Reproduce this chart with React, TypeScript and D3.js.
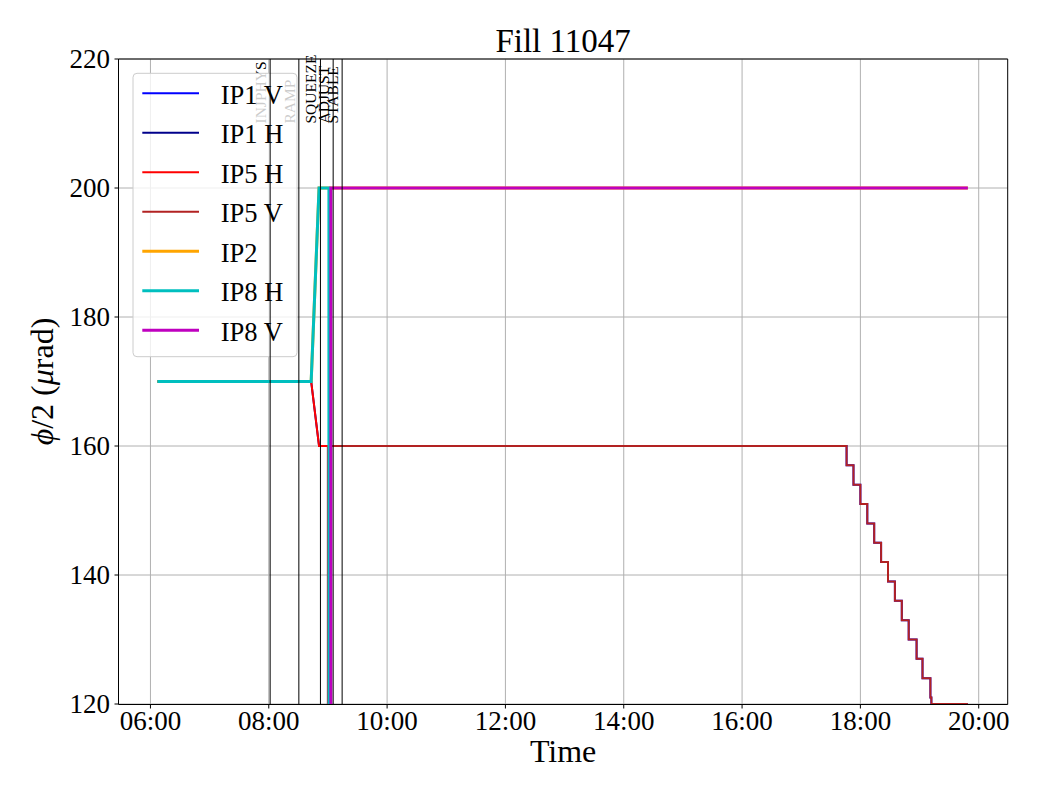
import React from 'react'
import * as d3 from 'd3'

// crossing angle readings, [time, phi/2 in urad]; 0 = switched off (off scale)
const ip5H: [string, number][] = [
  ['06:07', 170], ['08:43', 170], ['08:51', 160], ['09:00', 160], ['09:00', 0], ['19:49', 0]
]
const ip5V: [string, number][] = [
  ['06:07', 0], ['09:03', 160], ['17:46', 157], ['17:53', 154], ['18:00', 151], ['18:07', 148],
  ['18:14', 145], ['18:21', 142], ['18:28', 139], ['18:35', 136], ['18:42', 133], ['18:49', 130],
  ['18:57', 127], ['19:03', 124], ['19:11', 121], ['19:12', 120], ['19:49', 120]
]
const ip2: [string, number][] = [
  ['06:07', 170], ['08:43', 170], ['08:51', 200], ['19:49', 200]
]
const ip8H: [string, number][] = [
  ['06:07', 170], ['08:43', 170], ['08:51', 200], ['09:01', 200], ['09:01', 0], ['19:49', 0]
]
const ip8V: [string, number][] = [
  ['06:07', 0], ['09:03', 200], ['19:49', 200]
]

const seriesNames = ['IP1 V', 'IP1 H', 'IP5 H', 'IP5 V', 'IP2', 'IP8 H', 'IP8 V']
const seriesData = [ip5V, ip5H, ip5H, ip5V, ip2, ip8H, ip8V]
const seriesStep = [true, false, false, true, false, false, true]
const seriesColors = ['#0000ff', '#00008b', '#ff0000', '#b22222', '#ffa500', '#00bfbf', '#bf00bf']
const seriesWidths = [2, 2, 2, 2, 3, 3, 3]

const eventNames = ['INJPHYS', 'RAMP', 'SQUEEZE', 'ADJUST', 'STABLE']
const eventTimes = ['08:01.4', '08:30.5', '08:52.4', '09:05.3', '09:14.4']

const yTicks = [120, 140, 160, 180, 200, 220]

const toDate = (s: string) => {
  const [h, m] = s.split(':').map(Number)
  return new Date(2023, 6, 10, h, 0, 0, Math.round(m * 60000))
}

const FONT = "Liberation Serif, Times New Roman, serif"

const App = () => {
  var width = 1040
  var height = 800
  var left = 118.5, right = 1007.7, top = 59, bottom = 704

  const x = d3.scaleTime()
    .domain([toDate('05:27.6'), toDate('20:29.4')])
    .range([left, right])
  const y = d3.scaleLinear()
    .domain([120, 220])
    .range([bottom, top])

  const xTicks = x.ticks(d3.timeHour.every(2) as any)
  const fmt = d3.timeFormat('%H:%M')

  const lines = seriesData.map((d, i) => {
    const gen = d3.line<[string, number]>()
      .x(p => x(toDate(p[0])))
      .y(p => y(p[1]))
      .curve(seriesStep[i] ? d3.curveStepAfter : d3.curveLinear)
    return <path key={i} d={gen(d) || ''} fill="none" stroke={seriesColors[i]}
      strokeWidth={seriesWidths[i]} strokeLinejoin="miter" clipPath="url(#plotclip)"/>
  })

  var legX = 133, legY = 73.3, legRow = 39.5
  var spineB = bottom + 0.5

  return (
    <svg width={width} height={height} style={{position: 'absolute', left: 0, top: 0, background: 'white'}}
      fontFamily={FONT}>
      <defs>
        <clipPath id="plotclip">
          <rect x={left} y={top} width={right - left} height={bottom - top + 1}/>
        </clipPath>
      </defs>
      <rect x={0} y={0} width={width} height={height} fill="white"/>

      {/* grid */}
      <g stroke="#b0b0b0" strokeWidth={1}>
        {xTicks.map((t, i) => <line key={'gx' + i} x1={x(t)} x2={x(t)} y1={top} y2={bottom}/>)}
        {yTicks.map((t, i) => <line key={'gy' + i} x1={left} x2={right} y1={y(t)} y2={y(t)}/>)}
      </g>

      <g>{lines}</g>

      {/* event labels, sit under the legend */}
      {eventNames.map((name, i) => {
        const ex = x(toDate(eventTimes[i])) - 4
        const ey = y(210)
        return <text key={name} transform={`translate(${ex},${ey}) rotate(-90)`} fontSize={15.5}
          fontFamily={FONT} fill="black">{name}</text>
      })}

      {/* legend */}
      <g>
        <rect x={legX} y={legY} width={164} height={283.4} rx={4} fill="white" fillOpacity={0.8}
          stroke="#cccccc" strokeWidth={1}/>
        {seriesNames.map((name, i) => {
          const ly = legY + 20 + i * legRow
          return (
            <g key={name}>
              <line x1={142.3} x2={199} y1={ly} y2={ly} stroke={seriesColors[i]} strokeWidth={seriesWidths[i]}/>
              <text x={220.7} y={ly + 1.5} fontSize={26.5} fontFamily={FONT} dominantBaseline="central">{name}</text>
            </g>
          )
        })}
      </g>

      {/* event lines on top */}
      <g stroke="black" strokeWidth={1}>
        {eventTimes.map((t, i) => {
          const ex = x(toDate(t))
          return <line key={i} x1={ex} x2={ex} y1={top} y2={spineB}/>
        })}
      </g>

      {/* axes */}
      <g stroke="black" strokeWidth={1}>
        <line x1={left} x2={left} y1={top} y2={spineB}/>
        <line x1={right} x2={right} y1={top} y2={spineB}/>
        <line x1={left} x2={right} y1={top} y2={top}/>
        <line x1={left} x2={right} y1={spineB} y2={spineB}/>
      </g>
      <g>
        {xTicks.map((t, i) => (
          <g key={'tx' + i}>
            <line x1={x(t)} x2={x(t)} y1={spineB} y2={spineB + 4} stroke="black" strokeWidth={1}/>
            <text x={x(t)} y={730} fontSize={27} fontFamily={FONT} textAnchor="middle">{fmt(t)}</text>
          </g>
        ))}
        {yTicks.map((t, i) => (
          <g key={'ty' + i}>
            <line x1={left - 4} x2={left} y1={y(t)} y2={y(t)} stroke="black" strokeWidth={1}/>
            <text x={110} y={y(t)} fontSize={27} fontFamily={FONT} textAnchor="end" dominantBaseline="central">{t}</text>
          </g>
        ))}
      </g>

      <text x={(left + right) / 2} y={52} fontSize={33} fontFamily={FONT} textAnchor="middle">Fill 11047</text>
      <text x={(left + right) / 2} y={762} fontSize={32} fontFamily={FONT} textAnchor="middle">Time</text>
      <text transform={`translate(53,${(top + bottom) / 2}) rotate(-90)`} fontSize={32} fontFamily={FONT}
        textAnchor="middle">
        <tspan fontStyle="italic">ϕ</tspan>/2 (<tspan fontStyle="italic">μ</tspan>rad)
      </text>
    </svg>
  )
}

export default App
